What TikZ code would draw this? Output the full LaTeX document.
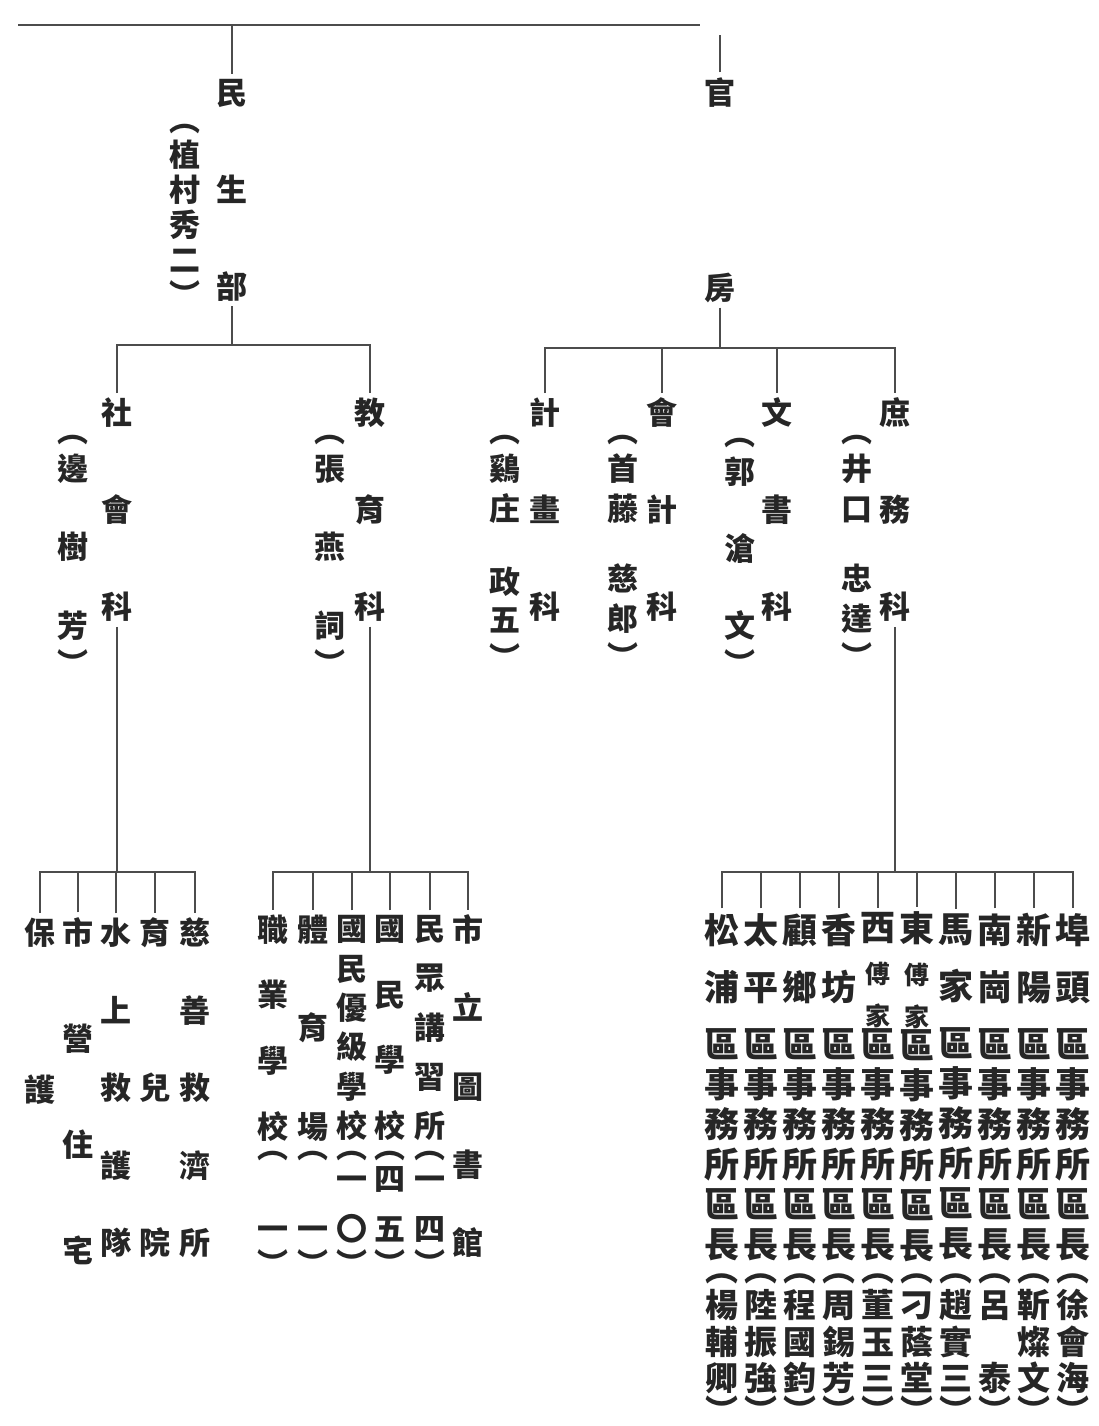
\documentclass[tikz,border=0pt]{standalone}
\usepackage{fontspec}
\usepackage{tikz}
\usetikzlibrary{positioning,calc}
\newfontfamily\cjk{Noto Sans CJK TC}
\colorlet{inkGray}{black!85}
\colorlet{ruleGray}{black!70}
\newcommand{\quzhang}{區\\事\\務\\所\\區\\長}
\newcommand{\lp}{\vphantom{口}︵}
\newcommand{\rp}{\vphantom{口}︶}

\begin{document}
\begin{tikzpicture}[x=1pt, y=-1pt, every node/.style={inner sep=0pt, outer ysep=5pt, align=center, text=inkGray},
        vcol/.style={font=\cjk\bfseries\fontsize{31pt}{#1}\selectfont},
        district/.style={font=\cjk\bfseries\fontsize{35pt}{40pt}\selectfont},
        headname/.style={font=\cjk\bfseries\fontsize{33pt}{36.5pt}\selectfont},
        tree/.style={draw=ruleGray, line width=1.4pt}]
        \fill[white] (0,0) rectangle (1098,1426);
        \useasboundingbox (0,0) rectangle (1098,1426);

        \coordinate (topL) at (18,25);
        \coordinate (topR) at (700,25);
        \coordinate (guantop) at (720,35);
        \coordinate (minbar) at (232,345);
        \coordinate (guanbar) at (720,348);
        \coordinate (lowbar) at (0,872);

        \node[vcol=97pt] (minsheng) at (232,190) {民\\生\\部};
        \node[vcol=35pt] (minhead) at (185,208) {\lp\\植\\村\\秀\\二\\\rp};
        \node[vcol=195pt] (guanfang) at (720,190) {官\\房};

        \node[vcol=97pt] (shehui) at (117,510) {社\\會\\科};
        \node[vcol=38pt] (shehuihead) at (73,548) {\lp\\邊\\[40pt]樹\\[41pt]芳\\\rp};
        \node[vcol=97pt] (jiaoyu) at (370,510) {教\\育\\科};
        \node[vcol=38pt] (jiaoyuhead) at (330,548) {\lp\\張\\[40pt]燕\\[41pt]詞\\\rp};
        \node[vcol=97pt] (jihua) at (545,510) {計\\畫\\科};
        \node[vcol=38pt] (jihuahead) at (505,545) {\lp\\鷄\\[2pt]庄\\[35pt]政\\五\\\rp};
        \node[vcol=97pt] (kuaiji) at (662,510) {會\\計\\科};
        \node[vcol=38pt] (kuaijihead) at (623,545) {\lp\\首\\[2pt]藤\\[32pt]慈\\[2pt]郎\\\rp};
        \node[vcol=97pt] (wenshu) at (777,510) {文\\書\\科};
        \node[vcol=38pt] (wenshuhead) at (740,550) {\lp\\郭\\[39pt]滄\\[39pt]文\\\rp};
        \node[vcol=97pt] (shuwu) at (895,510) {庶\\務\\科};
        \node[vcol=38pt] (shuwuhead) at (857,545) {\lp\\井\\[2pt]口\\[32pt]忠\\[2pt]達\\\rp};

        \node[vcol=157pt] (baohu) at (40,1011) {保\\護};
        \node[vcol=106pt] (shiying) at (78,1091) {市\\營\\住\\宅};
        \node[vcol=77.5pt] (shuishang) at (116,1088) {水\\上\\救\\護\\隊};
        \node[vcol=155pt] (yuer) at (155,1088) {育\\兒\\院};
        \node[vcol=77.5pt] (cishan) at (195,1088) {慈\\善\\救\\濟\\所};

        \node[vcol=65.7pt] (zhiye) at (273,1028) {職\\業\\學\\校};
        \node[vcol=98.5pt] (tiyu) at (313,1028) {體\\育\\場};
        \node[vcol=39.4pt] (youji) at (352,1028) {國\\民\\優\\級\\學\\校};
        \node[vcol=65.7pt] (guomin) at (390,1028) {國\\民\\學\\校};
        \node[vcol=49.2pt] (minzhong) at (430,1028) {民\\眾\\講\\習\\所};
        \node[vcol=78.2pt] (tushuguan) at (468,1086) {市\\立\\圖\\書\\館};

        \node[vcol=50pt] (zhiyenum) at (273,1206) {\lp\\[-18pt]\phantom{一}\\一\\[-15pt]\rp};
        \node[vcol=50pt] (tiyunum) at (313,1206) {\lp\\[-18pt]\phantom{一}\\一\\[-15pt]\rp};
        \node[vcol=50pt] (youjinum) at (352,1206) {\lp\\[-18pt]一\\〇\\[-15pt]\rp};
        \node[vcol=50pt] (guominnum) at (390,1206) {\lp\\[-18pt]四\\五\\[-15pt]\rp};
        \node[vcol=50pt] (minzhongnum) at (430,1206) {\lp\\[-18pt]一\\四\\[-15pt]\rp};

        \node[district] (songpu) at (722,1087) {松\\[17pt]浦\\[17pt]\quzhang};
        \node[district] (taiping) at (761,1087) {太\\[17pt]平\\[17pt]\quzhang};
        \node[district] (guxiang) at (800,1087) {顧\\[17pt]鄉\\[17pt]\quzhang};
        \node[district] (xiangfang) at (839,1087) {香\\[17pt]坊\\[17pt]\quzhang};
        \node[district] (xifujia) at (878,1087) {西\\[3pt]{\fontsize{25pt}{40pt}\selectfont 傅}\\[2pt]{\fontsize{25pt}{40pt}\selectfont 家}\\[-8pt]\quzhang};
        \node[district] (dongfujia) at (917,1087) {東\\[3pt]{\fontsize{25pt}{40pt}\selectfont 傅}\\[2pt]{\fontsize{25pt}{40pt}\selectfont 家}\\[-8pt]\quzhang};
        \node[district] (majia) at (956,1087) {馬\\[17pt]家\\[17pt]\quzhang};
        \node[district] (nangang) at (995,1087) {南\\[17pt]崗\\[17pt]\quzhang};
        \node[district] (xinyang) at (1034,1087) {新\\[17pt]陽\\[17pt]\quzhang};
        \node[district] (futou) at (1073,1087) {埠\\[17pt]頭\\[17pt]\quzhang};

        \node[headname] (songpuhead) at (722,1341) {\lp\\楊\\輔\\卿\\[-4pt]\rp};
        \node[headname] (taipinghead) at (761,1341) {\lp\\陸\\振\\強\\[-4pt]\rp};
        \node[headname] (guxianghead) at (800,1341) {\lp\\程\\國\\鈞\\[-4pt]\rp};
        \node[headname] (xiangfanghead) at (839,1341) {\lp\\周\\錫\\芳\\[-4pt]\rp};
        \node[headname] (xifujiahead) at (878,1341) {\lp\\董\\玉\\三\\[-4pt]\rp};
        \node[headname] (dongfujiahead) at (917,1341) {\lp\\刁\\蔭\\堂\\[-4pt]\rp};
        \node[headname] (majiahead) at (956,1341) {\lp\\趙\\實\\三\\[-4pt]\rp};
        \node[headname] (nanganghead) at (995,1341) {\lp\\呂\\\phantom{呂}\\泰\\[-4pt]\rp};
        \node[headname] (xinyanghead) at (1034,1341) {\lp\\靳\\燦\\文\\[-4pt]\rp};
        \node[headname] (futouhead) at (1073,1341) {\lp\\徐\\會\\海\\[-4pt]\rp};

        \draw[tree] (topL) -- (topR);
        \draw[tree] (minsheng.north) -- (minsheng.north |- topL);
        \draw[tree] (guanfang.north) -- (guantop);

        \draw[tree] (minsheng.south) -- (minbar);
        \draw[tree] (shehui.north) |- (minbar) -| (jiaoyu.north);
        \draw[tree] (guanfang.south) -- (guanbar);
        \draw[tree] (jihua.north) |- (guanbar) -| (shuwu.north);
        \draw[tree] (kuaiji.north) -- (kuaiji.north |- guanbar);
        \draw[tree] (wenshu.north) -- (wenshu.north |- guanbar);

        \draw[tree] (shehui.south) -- (shehui.south |- lowbar);
        \draw[tree] (baohu.north) |- (cishan.north |- lowbar) -- (cishan.north);
        \foreach \s in {shiying,shuishang,yuer}
            \draw[tree] (\s.north) -- (\s.north |- lowbar);

        \draw[tree] (jiaoyu.south) -- (jiaoyu.south |- lowbar);
        \draw[tree] (zhiye.north) |- (tushuguan.north |- lowbar) -- (tushuguan.north);
        \foreach \s in {tiyu,youji,guomin,minzhong}
            \draw[tree] (\s.north) -- (\s.north |- lowbar);

        \draw[tree] (shuwu.south) -- (shuwu.south |- lowbar);
        \draw[tree] (songpu.north) |- (futou.north |- lowbar) -- (futou.north);
        \foreach \s in {taiping,guxiang,xiangfang,xifujia,dongfujia,majia,nangang,xinyang}
            \draw[tree] (\s.north) -- (\s.north |- lowbar);
    \end{tikzpicture}
\end{document}
